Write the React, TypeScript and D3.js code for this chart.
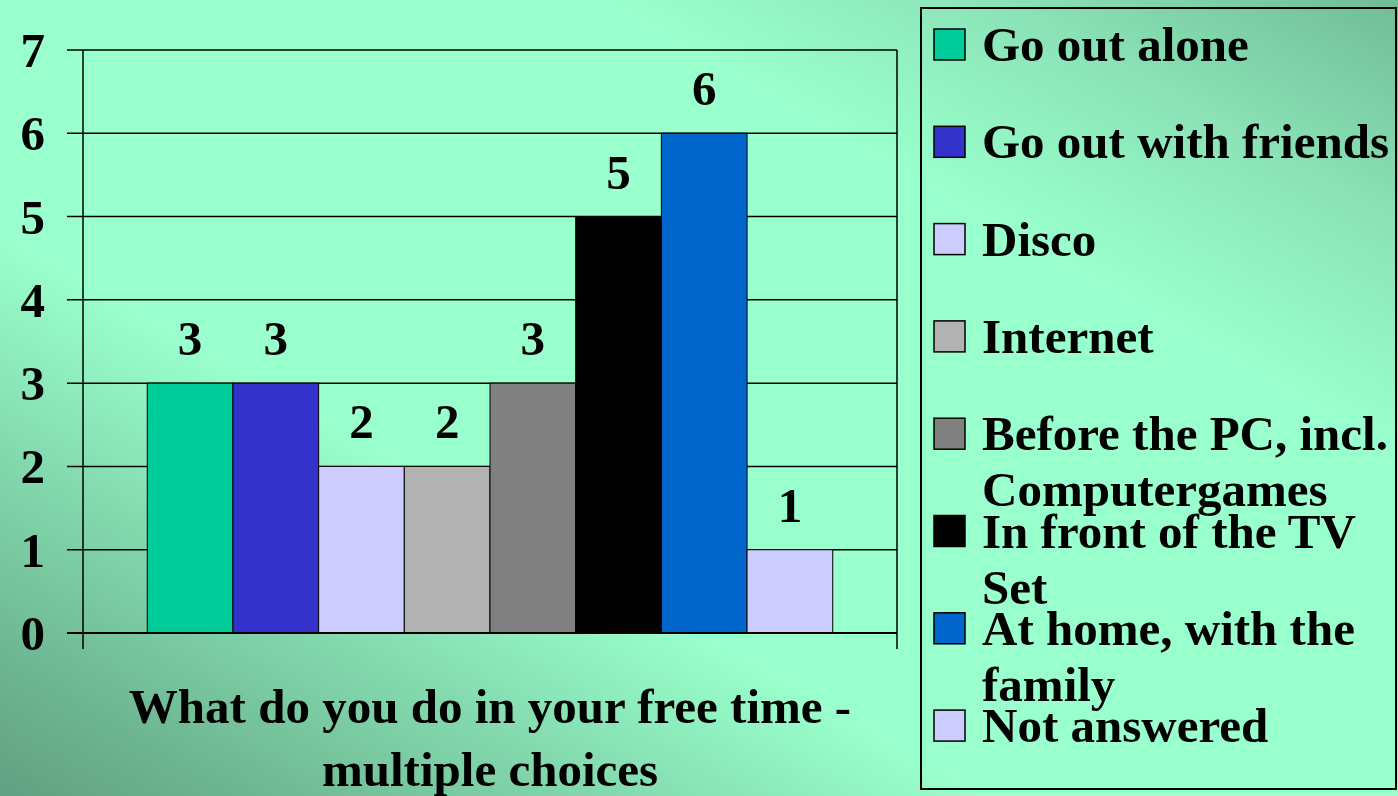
import React from "react";
import * as d3 from "d3";

const categories = [
  "Go out alone",
  "Go out with friends",
  "Disco",
  "Internet",
  "Before the PC, incl. Computergames",
  "In front of the TV Set",
  "At home, with the family",
  "Not answered",
];
const legendLines = [
  ["Go out alone"],
  ["Go out with friends"],
  ["Disco"],
  ["Internet"],
  ["Before the PC, incl.", "Computergames"],
  ["In front of the TV", "Set"],
  ["At home, with the", "family"],
  ["Not answered"],
];
const values = [3, 3, 2, 2, 3, 5, 6, 1];
const colors = ["#00CC99", "#3333CC", "#CCCCFF", "#B2B2B2", "#808080", "#000000", "#0066CC", "#CCCCFF"];
const yTicks = [0, 1, 2, 3, 4, 5, 6, 7];
const titleLines = ["What do you do in your free time -", "multiple choices"];

const W = 1398;
const H = 796;
const FONT = "'Liberation Serif', 'Times New Roman', serif";

export default function App() {
  const left = 83, right = 897, top = 50, bottom = 633;
  const y = d3.scaleLinear().domain([0, 7]).range([bottom, top]);
  const x = d3.scaleBand<string>().domain(categories).range([left, right]).paddingInner(0).paddingOuter(0.75);

  return (
    <div style={{ position: "absolute", left: 0, top: 0, width: W, height: H }}>
      <svg width={W} height={H} style={{ display: "block", fontFamily: FONT, fontWeight: "bold" }}>
        <defs>
          <linearGradient id="bg" x1="0" y1="1" x2="1" y2="0">
            <stop offset="0" stopColor="#62A082" />
            <stop offset="0.1" stopColor="#6FB994" />
            <stop offset="0.2" stopColor="#80D4AA" />
            <stop offset="0.35" stopColor="#99FFCC" />
            <stop offset="0.72" stopColor="#99FFCC" />
            <stop offset="0.86" stopColor="#8AE2B6" />
            <stop offset="1" stopColor="#70BC96" />
          </linearGradient>
        </defs>
        <rect x={0} y={0} width={W} height={H} fill="url(#bg)" />

        {/* gridlines & ticks */}
        {yTicks.map((t) => (
          <line key={"g" + t} x1={67} x2={t === 0 ? right : right} y1={y(t)} y2={y(t)} stroke="#000" strokeWidth={1.5} />
        ))}
        {/* bars */}
        {categories.map((c, i) => (
          <rect
            key={c}
            x={x(c)}
            y={y(values[i])}
            width={x.bandwidth()}
            height={y(0) - y(values[i])}
            fill={colors[i]}
            stroke="#000"
            strokeWidth={1}
          />
        ))}
        {/* axes */}
        <line x1={left} x2={left} y1={top} y2={649} stroke="#000" strokeWidth={1.5} />
        <line x1={right} x2={right} y1={top} y2={649} stroke="#000" strokeWidth={1.5} />
        <line x1={67} x2={right} y1={bottom} y2={bottom} stroke="#000" strokeWidth={2} />

        {/* y labels */}
        {yTicks.map((t) => (
          <text key={"l" + t} x={45} y={y(t) + 17} textAnchor="end" fontSize={49}>
            {t}
          </text>
        ))}
        {/* value labels */}
        {categories.map((c, i) => (
          <text key={"v" + c} x={(x(c) as number) + x.bandwidth() / 2} y={y(values[i]) - 28} textAnchor="middle" fontSize={49}>
            {values[i]}
          </text>
        ))}
        {/* axis title */}
        {titleLines.map((l, i) => (
          <text key={"t" + i} x={(left + right) / 2} y={723 + i * 63} textAnchor="middle" fontSize={49}>
            {l}
          </text>
        ))}

        {/* legend */}
        <rect x={921} y={8} width={475} height={781} fill="none" stroke="#000" strokeWidth={2} />
        {legendLines.map((lines, i) => {
          const base = 61 + i * 97.3;
          return (
            <g key={"lg" + i}>
              <rect x={934} y={base - 32} width={31} height={31} fill={colors[i]} stroke="#000" strokeWidth={1.5} />
              {lines.map((ln, j) => (
                <text key={j} x={982} y={base + j * 56} fontSize={49}>
                  {ln}
                </text>
              ))}
            </g>
          );
        })}
      </svg>
    </div>
  );
}
